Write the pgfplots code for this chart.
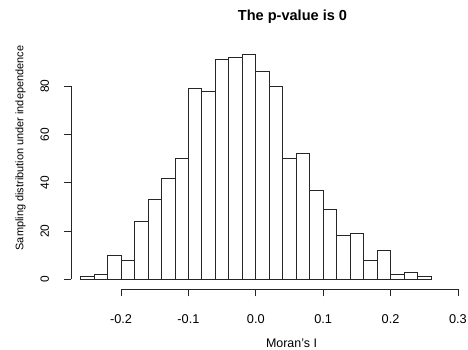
\documentclass[border=0pt]{standalone}
\usepackage{pgfplots}
\pgfplotsset{compat=1.18}
\usepackage{fontspec}
\setmainfont{Liberation Sans}
\begin{document}
\begin{tikzpicture}[x=1bp,y=1bp]
\useasboundingbox (0,0) rectangle (468,349);
\begin{axis}[
  at={(71.2bp,59.7bp)}, anchor=south west,
  width=439.3bp, height=243.3bp, scale only axis,
  xmin=-0.274, xmax=0.378, ymin=-4.15, ymax=96.7,
  axis lines*=left, axis line style={draw=none},
  clip=false,
  tick align=outside, major tick length=7bp,
  every tick/.style={black!85, line width=0.85bp},
  xtick={-0.2,-0.1,0,0.1,0.2,0.3},
  xticklabels={-0.2,-0.1,0.0,0.1,0.2,0.3},
  ytick={0,20,40,60,80},
  yticklabels={0,20,40,60,80},
  xticklabel style={yshift=-18.5bp, font=\fontsize{12.8}{15}\selectfont, anchor=north, inner sep=0pt},
  yticklabel style={xshift=-15bp, font=\fontsize{12}{14}\selectfont, rotate=90, anchor=south, inner sep=0pt},
  minor tick num=0,
]
\addplot[ybar interval, fill=white, draw=black!85, line width=0.85bp] coordinates {
(-0.26,1) (-0.24,2) (-0.22,10) (-0.20,8) (-0.18,24) (-0.16,33) (-0.14,42)
(-0.12,50) (-0.10,79) (-0.08,78) (-0.06,91) (-0.04,92) (-0.02,93) (0.00,86)
(0.02,80) (0.04,50) (0.06,52) (0.08,37) (0.10,29) (0.12,18) (0.14,19)
(0.16,8) (0.18,12) (0.20,2) (0.22,3) (0.24,1) (0.26,1)
};
\draw[black!85, line width=0.85bp] (axis cs:-0.2,-4.15) -- (axis cs:0.3,-4.15);
\draw[black!85, line width=0.85bp] (axis cs:-0.274,0) -- (axis cs:-0.274,80);
\end{axis}
\node[font=\bfseries\fontsize{14.6}{17}\selectfont, anchor=base] at (292.5,329) {The p-value is 0};
\node[font=\fontsize{12.5}{14}\selectfont, anchor=base] at (291.5,2) {Moran's I};
\node[font=\fontsize{11}{13}\selectfont, rotate=90, inner sep=0pt] at (20.5,201) {Sampling distribution under independence};
\end{tikzpicture}
\end{document}
